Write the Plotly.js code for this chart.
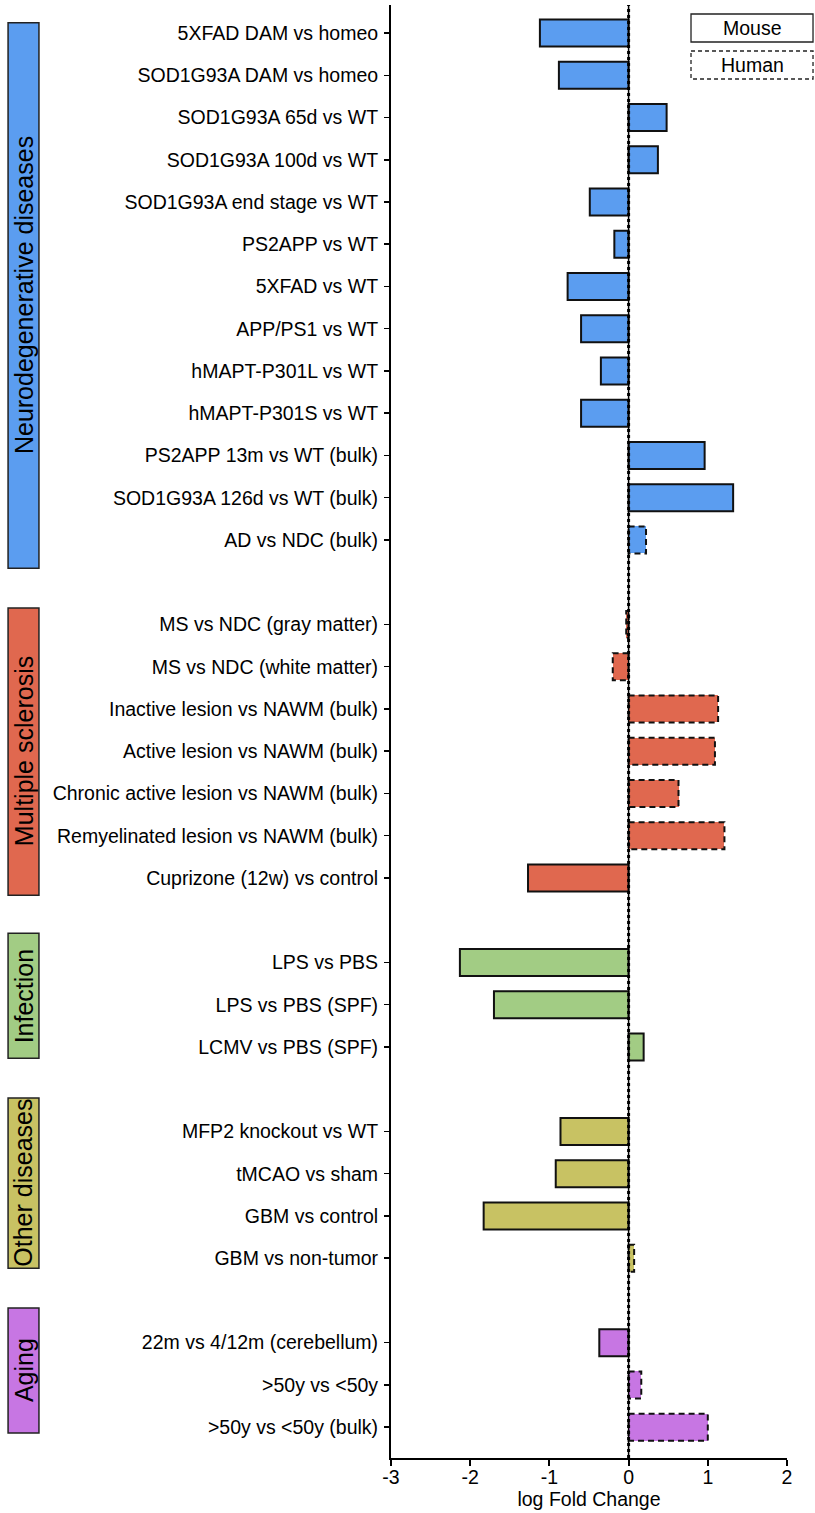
<!DOCTYPE html>
<html>
<head>
<meta charset="utf-8">
<script src="https://cdn.plot.ly/plotly-3.0.1.min.js"></script>
<style>
html,body{margin:0;padding:0;background:#fff;}
#chart{width:815px;height:1513px;}
</style>
</head>
<body>
<div id="chart"></div>
<script>
// ---------------- DATA ----------------
const comparisons = [
  "5XFAD DAM vs homeo",
  "SOD1G93A DAM vs homeo",
  "SOD1G93A 65d vs WT",
  "SOD1G93A 100d vs WT",
  "SOD1G93A end stage vs WT",
  "PS2APP vs WT",
  "5XFAD vs WT",
  "APP/PS1 vs WT",
  "hMAPT-P301L vs WT",
  "hMAPT-P301S vs WT",
  "PS2APP 13m vs WT (bulk)",
  "SOD1G93A 126d vs WT (bulk)",
  "AD vs NDC (bulk)",
  "MS vs NDC (gray matter)",
  "MS vs NDC (white matter)",
  "Inactive lesion vs NAWM (bulk)",
  "Active lesion vs NAWM (bulk)",
  "Chronic active lesion vs NAWM (bulk)",
  "Remyelinated lesion vs NAWM (bulk)",
  "Cuprizone (12w) vs control",
  "LPS vs PBS",
  "LPS vs PBS (SPF)",
  "LCMV vs PBS (SPF)",
  "MFP2 knockout vs WT",
  "tMCAO vs sham",
  "GBM vs control",
  "GBM vs non-tumor",
  "22m vs 4/12m (cerebellum)",
  ">50y vs <50y",
  ">50y vs <50y (bulk)"
];
const logFC = [
  -1.12, -0.88, 0.48, 0.37, -0.49, -0.18, -0.77, -0.60, -0.35, -0.60, 0.96, 1.32, 0.22,
  -0.03, -0.20, 1.13, 1.09, 0.63, 1.21, -1.27,
  -2.13, -1.70, 0.19,
  -0.86, -0.92, -1.83, 0.07,
  -0.37, 0.16, 1.00
];
const species = [
  "Mouse","Mouse","Mouse","Mouse","Mouse","Mouse","Mouse","Mouse","Mouse","Mouse","Mouse","Mouse","Human",
  "Human","Human","Human","Human","Human","Human","Mouse",
  "Mouse","Mouse","Mouse",
  "Mouse","Mouse","Mouse","Human",
  "Mouse","Human","Human"
];
const groupOf = [
  "Neurodegenerative diseases","Neurodegenerative diseases","Neurodegenerative diseases","Neurodegenerative diseases",
  "Neurodegenerative diseases","Neurodegenerative diseases","Neurodegenerative diseases","Neurodegenerative diseases",
  "Neurodegenerative diseases","Neurodegenerative diseases","Neurodegenerative diseases","Neurodegenerative diseases",
  "Neurodegenerative diseases",
  "Multiple sclerosis","Multiple sclerosis","Multiple sclerosis","Multiple sclerosis","Multiple sclerosis",
  "Multiple sclerosis","Multiple sclerosis",
  "Infection","Infection","Infection",
  "Other diseases","Other diseases","Other diseases","Other diseases",
  "Aging","Aging","Aging"
];
const groupNames = ["Neurodegenerative diseases","Multiple sclerosis","Infection","Other diseases","Aging"];
const groupColors = ["#5B9DF0","#E0684F","#A2CC84","#C8C263","#C776E3"];
// group label box extents (in row units, layout)
const groupBoxTop = [-0.24, 13.61, 21.31, 25.21, 30.18];
const groupBoxBottom = [12.67, 20.41, 24.27, 29.24, 33.14];
const legendLabels = ["Mouse","Human"];

// ---------------- POSITIONS ----------------
const ypos = [];
let pos = 0;
for (let i = 0; i < comparisons.length; i++) {
  if (i > 0 && groupOf[i] !== groupOf[i-1]) pos += 1; // blank slot between groups
  ypos.push(pos);
  pos += 1;
}
const colorOf = g => groupColors[groupNames.indexOf(g)];
const BW = 0.64;
const FONT = "Arial, 'Liberation Sans', sans-serif";

// ---------------- TRACES ----------------
const traces = [];
["Mouse","Human"].forEach(sp => {
  const idx = comparisons.map((_, i) => i).filter(i => species[i] === sp);
  traces.push({
    type: "bar",
    orientation: "h",
    x: idx.map(i => logFC[i]),
    y: idx.map(i => ypos[i]),
    width: BW,
    marker: {
      color: idx.map(i => colorOf(groupOf[i])),
      line: {color: sp === "Mouse" ? "#111" : "rgba(0,0,0,0)", width: sp === "Mouse" ? 2 : 0}
    },
    showlegend: false,
    hoverinfo: "x+y"
  });
});

// ---------------- SHAPES ----------------
const shapes = [];
// dashed outlines for human bars
comparisons.forEach((c, i) => {
  if (species[i] !== "Human") return;
  shapes.push({
    type: "rect", xref: "x", yref: "y",
    x0: 0, x1: logFC[i], y0: ypos[i] - BW/2, y1: ypos[i] + BW/2,
    line: {color: "#111", width: 2, dash: "6px,4px"}, fillcolor: "rgba(0,0,0,0)", layer: "above"
  });
});
// zero line
shapes.push({type:"line", xref:"x", yref:"paper", x0:0, x1:0, y0:0, y1:1, line:{color:"#000", width:1.5}, layer:"above"});
shapes.push({type:"line", xref:"x", yref:"paper", x0:0, x1:0, y0:0, y1:1, line:{color:"#000", width:3, dash:"dot"}, layer:"above"});

const annotations = [];
// group boxes
groupNames.forEach((g, k) => {
  shapes.push({
    type: "rect", xref: "paper", yref: "y",
    x0: -0.967, x1: -0.889, y0: groupBoxTop[k], y1: groupBoxBottom[k],
    line: {color: "#222", width: 1.5}, fillcolor: groupColors[k], layer: "above"
  });
  annotations.push({
    xref: "paper", yref: "y", x: -0.928, y: (groupBoxTop[k] + groupBoxBottom[k]) / 2,
    xanchor: "center", yanchor: "middle",
    text: g, textangle: -90, showarrow: false,
    font: {family: FONT, size: 25, color: "#000"}
  });
});
// legend boxes
const legY = [[-0.45, 0.213], [0.426, 1.089]];
legendLabels.forEach((lab, k) => {
  shapes.push({
    type: "rect", xref: "paper", yref: "y",
    x0: 0.7576, x1: 1.0657, y0: legY[k][0], y1: legY[k][1],
    line: {color: "#222", width: 1.3, dash: k === 0 ? "solid" : "4px,3px"},
    fillcolor: "#fff", layer: "above"
  });
  annotations.push({
    xref: "paper", yref: "y", x: (0.7576 + 1.0657) / 2, y: (legY[k][0] + legY[k][1]) / 2,
    xanchor: "center", yanchor: "middle",
    text: lab, showarrow: false,
    font: {family: FONT, size: 19.5, color: "#000"}
  });
});

const layout = {
  width: 815, height: 1513,
  margin: {l: 391, r: 28, t: 5, b: 55},
  paper_bgcolor: "#fff", plot_bgcolor: "#fff",
  font: {family: FONT, color: "#000", size: 19.5},
  bargap: 0,
  xaxis: {
    range: [-3, 2], tickvals: [-3, -2, -1, 0, 1, 2], ticktext: ["-3","-2","-1","0","1","2"],
    showgrid: false, zeroline: false, showline: true, linecolor: "#000", linewidth: 2,
    ticks: "outside", ticklen: 6, tickwidth: 2, tickcolor: "#000",
    tickfont: {size: 19.5}, fixedrange: true, ticklabelstandoff: -5,
    title: {text: "log Fold Change", font: {size: 19.5}, standoff: 2}
  },
  yaxis: {
    range: [33.73, -0.663], tickvals: ypos, ticktext: comparisons,
    showgrid: false, zeroline: false, showline: true, linecolor: "#000", linewidth: 2,
    ticks: "outside", ticklen: 5, tickwidth: 1.5, tickcolor: "#000",
    tickfont: {size: 19.5}, fixedrange: true, automargin: false, ticklabelstandoff: 2
  },
  shapes: shapes,
  annotations: annotations,
  showlegend: false
};

Plotly.newPlot("chart", traces, layout, {displayModeBar: false, staticPlot: true});
</script>
</body>
</html>
